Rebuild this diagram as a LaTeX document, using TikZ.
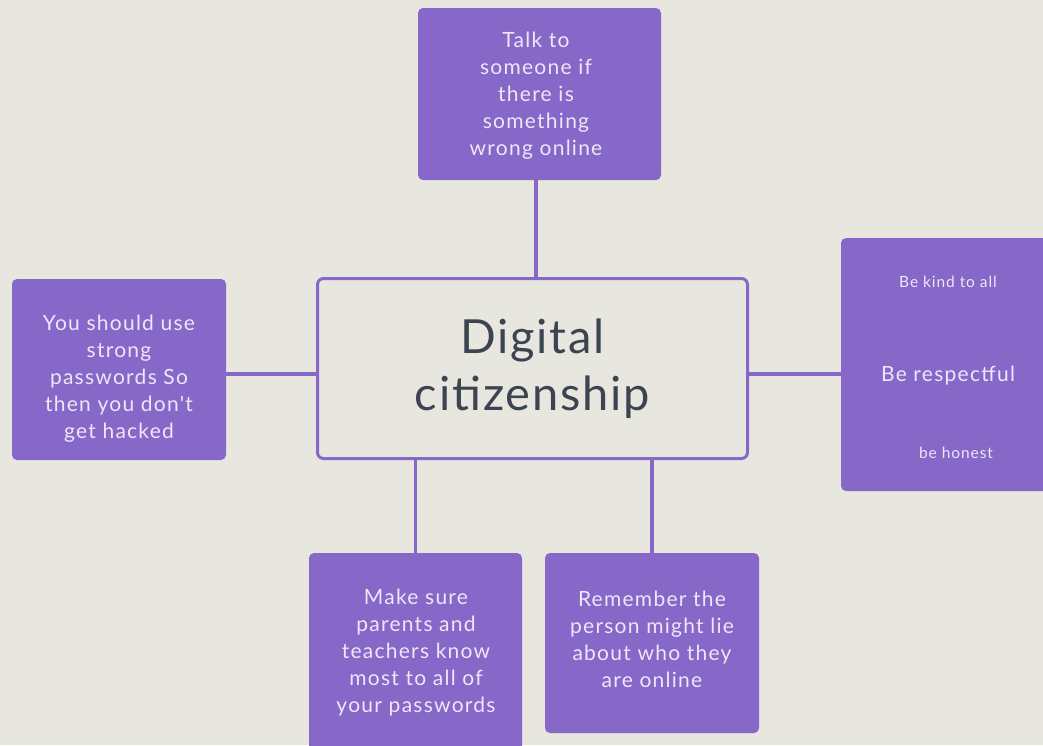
\documentclass[tikz,border=0pt]{standalone}
\usepackage{fontspec}
\setmainfont{Lato}
\newfontfamily\boxfont[LetterSpace=6]{Lato}
\newfontfamily\centerfont[LetterSpace=4]{Lato}
\definecolor{bg}{HTML}{E7E6DF}
\definecolor{purp}{HTML}{8767C8}
\definecolor{ltxt}{HTML}{EDE7F8}
\definecolor{dtxt}{HTML}{3D4451}
\tikzset{
  pbox/.style={draw=none, fill=purp, rounded corners=5pt, inner sep=0pt},
  cbox/.style={draw=purp, line width=3pt, fill=bg, rounded corners=6pt, inner sep=0pt},
  btxt/.style={text=ltxt, align=center, font=\boxfont\fontsize{21}{27}\selectfont, inner sep=0pt},
  stxt/.style={btxt, font=\boxfont\fontsize{15.5}{18}\selectfont},
  conn/.style={draw=purp, line width=3.5pt},
}
\begin{document}
\begin{tikzpicture}[x=1pt,y=-1pt]
\fill[bg] (0,0) rectangle (1043,745);
\useasboundingbox (0,0) rectangle (1043,745);
% central node
\node[cbox, minimum width=430pt, minimum height=180pt] (center) at (532.5,368.5) {};
% boxes
\node[pbox, minimum width=243pt, minimum height=172pt] (top) at (539.5,94) {};
\node[pbox, minimum width=214pt, minimum height=181pt] (left) at (119,369.5) {};
\node[pbox, minimum width=219pt, minimum height=253pt] (right) at (950.5,364.5) {};
\node[pbox, minimum width=213pt, minimum height=217pt] (bl) at (415.5,661.5) {};
\node[pbox, minimum width=214pt, minimum height=180pt] (br) at (652,643) {};
% connectors
\draw[conn] ([xshift=-3.5pt]top.south) -- ([xshift=-3.5pt]top.south |- center.north);
\draw[conn] ([yshift=-4.5pt]left.east) -- ([yshift=-4.5pt]left.east -| center.west);
\draw[conn] (bl.north) -- (bl.north |- center.south);
\draw[conn] (br.north) -- (br.north |- center.south);
\draw[conn] ([yshift=-5.5pt]center.east) -- ([yshift=-5.5pt]center.east -| right.west);
% texts
\node[text=dtxt, align=center, font=\centerfont\fontsize{47}{57}\selectfont, inner sep=0pt] (ctext) at (532.5,369) {Digital\\citizenship};
\node[btxt] (ttext) at (536,96) {Talk to\\someone if\\there is\\something\\wrong online};
\node[btxt] (ltext) at (119,379) {You should use\\strong\\passwords So\\then you don't\\get hacked};
\node[btxt] (bltext) at (416,653) {Make sure\\parents and\\teachers know\\most to all of\\your passwords};
\node[btxt] (brtext) at (652,639) {Remember the\\person might lie\\about who they\\are online};
\node[stxt] (r1) at (948,282) {Be kind to all};
\node[btxt] (r2) at (948,376) {Be respectful};
\node[stxt] (r3) at (956,453) {be honest};
\end{tikzpicture}
\end{document}
